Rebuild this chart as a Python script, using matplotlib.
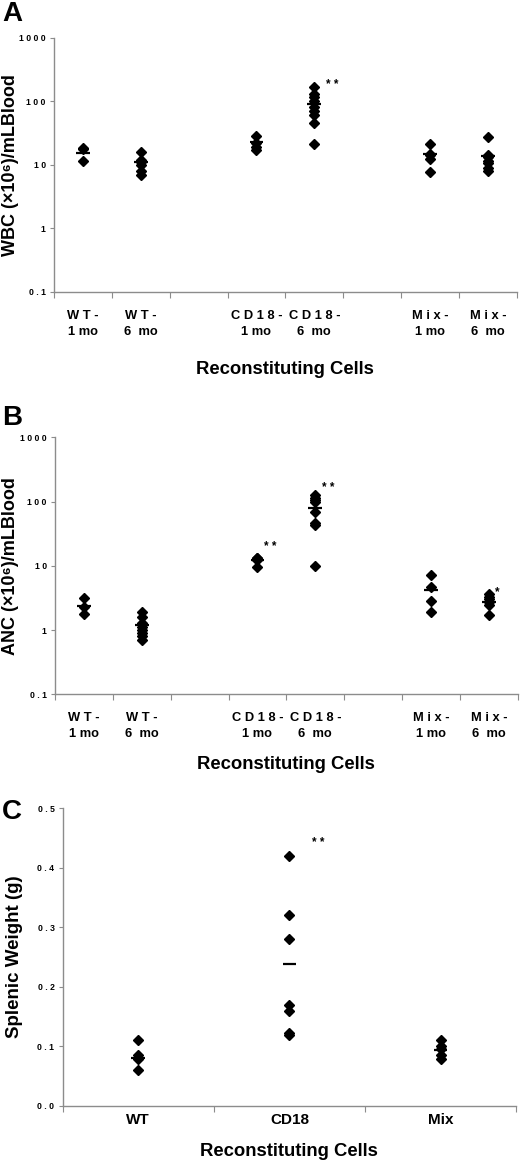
import numpy as np
import matplotlib
matplotlib.use("Agg")
import matplotlib.pyplot as plt
from matplotlib.ticker import FixedLocator, NullLocator

plt.rcParams['font.family'] = ['Liberation Sans', 'DejaVu Sans']
plt.rcParams['font.weight'] = 'bold'
plt.rcParams['axes.labelweight'] = 'bold'

# category layout for panels A and B (gaps between groups)
cat_labels_ab = ["W T -\n1 mo", "W T -\n6  mo", "", "C D 1 8 -\n1 mo", "C D 1 8 -\n6  mo", "",
                 "M i x -\n1 mo", "M i x -\n6  mo"]
group_pos_ab = [0, 1, 3, 4, 6, 7]

# panel A: WBC (x10^6 / mL blood)
wbc_wt_1 = [18, 17.5, 11.5]
wbc_wt_6 = [16, 12, 11, 10, 8, 7]
wbc_cd18_1 = [28, 22, 19, 17]
wbc_cd18_6 = [170, 130, 115, 100, 80, 70, 60, 45, 21]
wbc_mix_1 = [21, 15, 14, 12.5, 7.6]
wbc_mix_6 = [27, 14, 13, 11.5, 10.5, 9, 8]
wbc_means = [15.5, 11, 22.5, 92, 14.5, 13.5]

# panel B: ANC (x10^6 / mL blood)
anc_wt_1 = [3.2, 2.3, 1.8]
anc_wt_6 = [1.9, 1.6, 1.3, 1.1, 1.0, 0.9, 0.8, 0.7]
anc_cd18_1 = [13, 13, 12.5, 9.7]
anc_cd18_6 = [125, 115, 105, 100, 68, 47, 43, 9.8]
anc_mix_1 = [7.2, 4.6, 2.8, 1.9]
anc_mix_6 = [3.6, 3.3, 3.0, 2.7, 2.5, 1.7]
anc_means = [2.4, 1.2, 12.2, 80, 4.2, 2.7]

# panel C: splenic weight (g)
cat_labels_c = ["WT", "CD18", "Mix"]
spl_wt = [0.11, 0.085, 0.08, 0.078, 0.06]
spl_cd18 = [0.42, 0.32, 0.28, 0.17, 0.16, 0.122, 0.118]
spl_mix = [0.11, 0.10, 0.095, 0.085, 0.078]
spl_means = [0.08, 0.239, 0.094]

log_ticks = [0.1, 1, 10, 100, 1000]
log_ticklabels = ["0 . 1", "1", "1 0", "1 0 0", "1 0 0 0"]
lin_ticks = [0.0, 0.1, 0.2, 0.3, 0.4, 0.5]
lin_ticklabels = ["0 . 0", "0 . 1", "0 . 2", "0 . 3", "0 . 4", "0 . 5"]

SPINE = "#8c8c8c"


def style_axes(ax, n_slots):
    for s in ["top", "right"]:
        ax.spines[s].set_visible(False)
    for s in ["left", "bottom"]:
        ax.spines[s].set_color(SPINE)
        ax.spines[s].set_linewidth(1.0)
    ax.set_xlim(-0.5, n_slots - 0.5)
    # tick marks on slot boundaries, labels on slot centers
    ax.xaxis.set_major_locator(FixedLocator(np.arange(n_slots + 1) - 0.5))
    ax.xaxis.set_minor_locator(FixedLocator(np.arange(n_slots)))
    ax.tick_params(axis="x", which="major", length=4, color=SPINE, labelbottom=False)
    ax.tick_params(axis="x", which="minor", length=0)
    ax.tick_params(axis="y", length=3, color=SPINE, labelsize=6.2, pad=3)


def draw_groups(ax, groups, means, positions, line_w):
    for pos, vals, m in zip(positions, groups, means):
        ax.plot([pos] * len(vals), vals, linestyle="none", marker="D",
                markersize=5, color="black")
        ax.hlines(m, pos - line_w, pos + line_w, color="black", linewidth=1.6)


fig = plt.figure(figsize=(5.2, 11.64), dpi=100)

# ---- panel A ----
axA = fig.add_axes([0.1038, 0.7494, 0.890, 0.2182])
axA.set_yscale("log")
axA.set_ylim(0.1, 1000)
draw_groups(axA, [wbc_wt_1, wbc_wt_6, wbc_cd18_1, wbc_cd18_6, wbc_mix_1, wbc_mix_6],
            wbc_means, group_pos_ab, 0.12)
style_axes(axA, len(cat_labels_ab))
axA.set_yticks(log_ticks, log_ticklabels)
axA.yaxis.set_minor_locator(NullLocator())
axA.set_xticks(range(len(cat_labels_ab)), cat_labels_ab, minor=True)
axA.tick_params(axis="x", which="minor", labelsize=9.3, pad=13)
for t in axA.get_xticklabels(minor=True):
    t.set_linespacing(1.45)
axA.set_ylabel("WBC (\u00d710\u2076)/mLBlood", fontsize=13)
axA.yaxis.set_label_coords(-0.076, 0.5)
axA.set_xlabel("Reconstituting Cells", fontsize=13.3, labelpad=17)
axA.text(4.2, 180, "* *", fontsize=8.5, ha="left", va="center")
fig.text(0.004, 0.988, "A", fontsize=20, ha="left", va="center")

# ---- panel B ----
axB = fig.add_axes([0.1058, 0.4035, 0.890, 0.2208])
axB.set_yscale("log")
axB.set_ylim(0.1, 1000)
draw_groups(axB, [anc_wt_1, anc_wt_6, anc_cd18_1, anc_cd18_6, anc_mix_1, anc_mix_6],
            anc_means, group_pos_ab, 0.12)
style_axes(axB, len(cat_labels_ab))
axB.set_yticks(log_ticks, log_ticklabels)
axB.yaxis.set_minor_locator(NullLocator())
axB.set_xticks(range(len(cat_labels_ab)), cat_labels_ab, minor=True)
axB.tick_params(axis="x", which="minor", labelsize=9.3, pad=13)
for t in axB.get_xticklabels(minor=True):
    t.set_linespacing(1.45)
axB.set_ylabel("ANC (\u00d710\u2076)/mLBlood", fontsize=13)
axB.yaxis.set_label_coords(-0.078, 0.5)
axB.set_xlabel("Reconstituting Cells", fontsize=13.3, labelpad=11)
axB.text(3.12, 19.5, "* *", fontsize=8.5, ha="left", va="center")
axB.text(4.12, 160, "* *", fontsize=8.5, ha="left", va="center")
axB.text(7.1, 3.9, "*", fontsize=8.5, ha="left", va="center")
fig.text(0.004, 0.6413, "B", fontsize=20, ha="left", va="center")

# ---- panel C ----
axC = fig.add_axes([0.1206, 0.0501, 0.872, 0.2555])
axC.set_ylim(0, 0.5)
draw_groups(axC, [spl_wt, spl_cd18, spl_mix], spl_means, [0, 1, 2], 0.045)
style_axes(axC, len(cat_labels_c))
axC.set_yticks(lin_ticks, lin_ticklabels)
axC.set_xticks(range(len(cat_labels_c)), cat_labels_c, minor=True)
axC.tick_params(axis="x", which="minor", labelsize=11, pad=5)
axC.set_ylabel("Splenic Weight (g)", fontsize=13.5)
axC.yaxis.set_label_coords(-0.088, 0.5)
axC.set_xlabel("Reconstituting Cells", fontsize=13.3, labelpad=12)
axC.text(1.15, 0.442, "* *", fontsize=8.5, ha="left", va="center")
fig.text(0.004, 0.302, "C", fontsize=20, ha="left", va="center")

fig.savefig("out.png", dpi=100, facecolor="white")
